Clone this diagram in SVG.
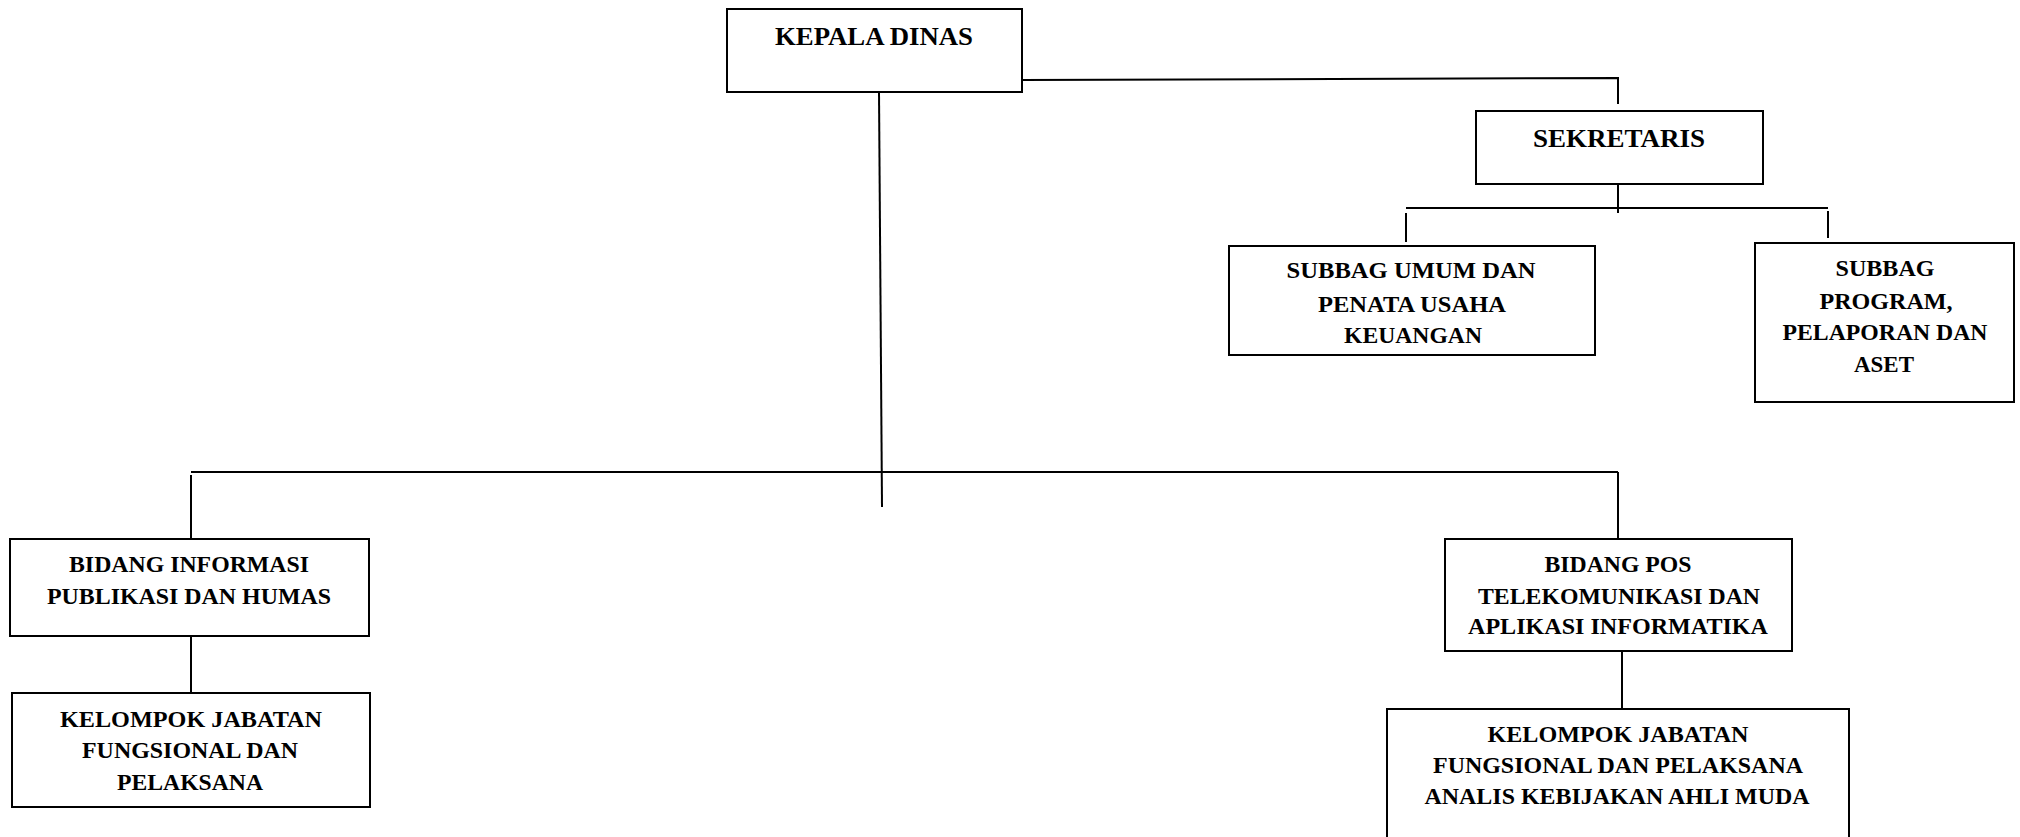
<svg xmlns="http://www.w3.org/2000/svg" width="2020" height="837" viewBox="0 0 2020 837">
<style>
.box{fill:#fff;stroke:#000;stroke-width:2}
.ln{stroke:#000;stroke-width:2;fill:none}
text{font-family:"Liberation Serif","Times New Roman",serif;font-weight:bold;fill:#000;text-anchor:middle}
.t26{font-size:26px}
.t24{font-size:24px}
.t23{font-size:23.5px}
</style>
<rect width="2020" height="837" fill="#fff"/>
<g id="connectors">
<polyline class="ln" points="1022,80 1618,78 1618,104"/>
<line class="ln" x1="879" y1="92" x2="882" y2="507"/>
<line class="ln" x1="1618" y1="183" x2="1618" y2="213"/>
<line class="ln" x1="1406" y1="208" x2="1828" y2="208"/>
<line class="ln" x1="1406" y1="213" x2="1406" y2="242"/>
<line class="ln" x1="1828" y1="211" x2="1828" y2="238"/>
<line class="ln" x1="191" y1="472" x2="1618" y2="472"/>
<line class="ln" x1="191" y1="475" x2="191" y2="545"/>
<line class="ln" x1="1618" y1="472" x2="1618" y2="542"/>
<line class="ln" x1="191" y1="629" x2="191" y2="693"/>
<line class="ln" x1="1622" y1="642" x2="1622" y2="710"/>
</g>
<g id="kepala">
<rect class="box" x="727" y="9" width="295" height="83"/>
<text class="t26" x="874" y="45" textLength="198" lengthAdjust="spacingAndGlyphs">KEPALA DINAS</text>
</g>
<g id="sekretaris">
<rect class="box" x="1476" y="111" width="287" height="73"/>
<text class="t26" x="1619" y="147" textLength="172" lengthAdjust="spacingAndGlyphs">SEKRETARIS</text>
</g>
<g id="subbag-umum">
<rect class="box" x="1229" y="246" width="366" height="109"/>
<text class="t24" x="1411" y="278" textLength="249" lengthAdjust="spacingAndGlyphs">SUBBAG UMUM  DAN</text>
<text class="t24" x="1412" y="312" textLength="188" lengthAdjust="spacingAndGlyphs">PENATA USAHA</text>
<text class="t24" x="1413" y="343" textLength="138" lengthAdjust="spacingAndGlyphs">KEUANGAN</text>
</g>
<g id="subbag-program">
<rect class="box" x="1755" y="243" width="259" height="159"/>
<text class="t24" x="1885" y="276" textLength="99" lengthAdjust="spacingAndGlyphs">SUBBAG</text>
<text class="t24" x="1886" y="309" textLength="133" lengthAdjust="spacingAndGlyphs">PROGRAM,</text>
<text class="t24" x="1885" y="340" textLength="205" lengthAdjust="spacingAndGlyphs">PELAPORAN DAN</text>
<text class="t24" x="1884" y="372" textLength="60" lengthAdjust="spacingAndGlyphs">ASET</text>
</g>
<g id="bidang-informasi">
<rect class="box" x="10" y="539" width="359" height="97"/>
<text class="t23" x="189" y="572" textLength="240" lengthAdjust="spacingAndGlyphs">BIDANG INFORMASI</text>
<text class="t23" x="189" y="604" textLength="284" lengthAdjust="spacingAndGlyphs">PUBLIKASI DAN HUMAS</text>
</g>
<g id="kelompok-kiri">
<rect class="box" x="12" y="693" width="358" height="114"/>
<text class="t23" x="191" y="727" textLength="262" lengthAdjust="spacingAndGlyphs">KELOMPOK JABATAN</text>
<text class="t23" x="190" y="758" textLength="216" lengthAdjust="spacingAndGlyphs">FUNGSIONAL DAN</text>
<text class="t23" x="190" y="790" textLength="146" lengthAdjust="spacingAndGlyphs">PELAKSANA</text>
</g>
<g id="bidang-pos">
<rect class="box" x="1445" y="539" width="347" height="112"/>
<text class="t23" x="1618" y="572" textLength="147" lengthAdjust="spacingAndGlyphs">BIDANG POS</text>
<text class="t23" x="1619" y="604" textLength="282" lengthAdjust="spacingAndGlyphs">TELEKOMUNIKASI DAN</text>
<text class="t23" x="1618" y="634" textLength="300" lengthAdjust="spacingAndGlyphs">APLIKASI INFORMATIKA</text>
</g>
<g id="kelompok-kanan">
<rect class="box" x="1387" y="709" width="462" height="140"/>
<text class="t24" x="1618" y="742" textLength="261" lengthAdjust="spacingAndGlyphs">KELOMPOK JABATAN</text>
<text class="t24" x="1618" y="773" textLength="370" lengthAdjust="spacingAndGlyphs">FUNGSIONAL DAN PELAKSANA</text>
<text class="t24" x="1617" y="804" textLength="385" lengthAdjust="spacingAndGlyphs">ANALIS KEBIJAKAN AHLI MUDA</text>
</g>
</svg>
